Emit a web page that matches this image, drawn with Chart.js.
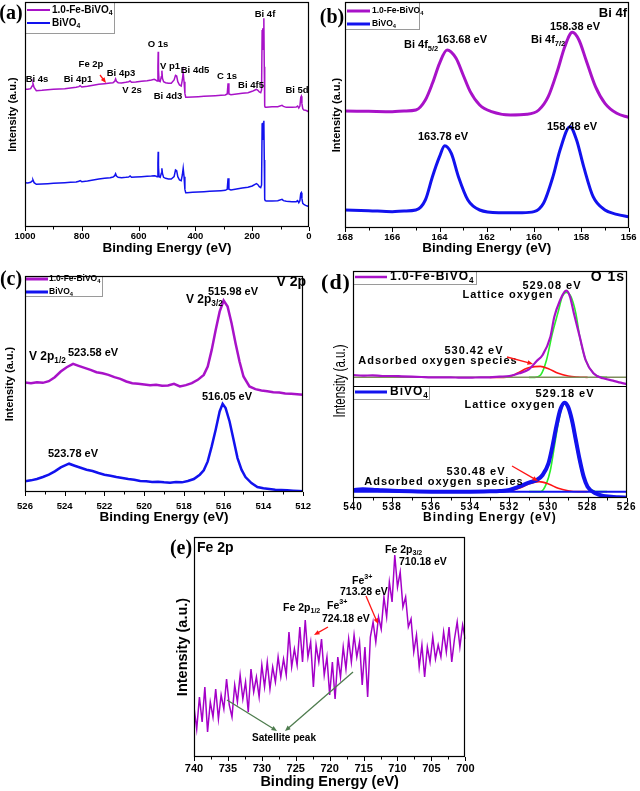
<!DOCTYPE html>
<html><head><meta charset="utf-8">
<script src="https://cdn.jsdelivr.net/npm/chart.js@4.4.1/dist/chart.umd.min.js"></script>
<style>
html,body{margin:0;padding:0;background:#fff;}
body{width:640px;height:791px;position:relative;overflow:hidden;}
canvas{position:absolute;}
</style></head><body>
<canvas id="pa" width="320" height="260" style="left:0;top:0"></canvas>
<canvas id="pb" width="320" height="260" style="left:320px;top:0"></canvas>
<canvas id="pc" width="320" height="265" style="left:0;top:260px"></canvas>
<canvas id="pd" width="320" height="265" style="left:320px;top:260px"></canvas>
<canvas id="pe" width="320" height="271" style="left:160px;top:520px"></canvas>
<script>
// ---------------- DATA ----------------
// (a) survey spectra
const surveyEnergy = [1000,990,980,975,972,968,960,940,920,900,880,860,840,820,810,806,800,780,760,740,720,700,690,684,681,678,672,660,645,635,630,625,610,590,570,555,545,540,535,532,531,530,528,524,520,518,516,512,505,495,485,475,470,466,462,456,450,446,443,440,437,434,430,410,390,370,350,330,310,295,288,285,282,275,255,235,215,200,190,185,180,175,170,167,165,163.5,162,160.5,159,157.5,156,154,150,130,110,95,90,80,60,45,40,36,32,29,27,25,22,18,12,6,0];
const surveyFe = [432,432,434,442,450,438,428,429,431,432,433,434,436,438,440,443,439,441,444,447,449,451,452,456,463,456,452,451,453,455,457,453,454,456,458,460,462,460,457,500,545,490,457,455,470,488,465,455,452,450,450,460,474,472,455,445,442,460,482,455,420,408,408,409,410,411,412,413,414,415,418,450,418,416,418,420,422,426,430,432,429,424,422,430,610,615,550,580,645,500,382,378,378,380,380,384,381,378,378,379,382,376,382,408,411,390,374,370,369,367,364];
const surveyBi = [152,151,153,157,160,152,147,148,149,150,151,152,153,154,156,158,155,157,160,163,165,167,169,173,179,172,168,167,168,169,172,168,169,170,171,172,173,172,170,210,245,200,170,168,180,195,180,168,165,163,163,170,190,188,170,160,158,175,195,170,132,122,122,123,124,125,126,127,128,129,132,165,132,130,133,136,138,142,147,149,146,140,137,145,330,332,280,300,338,220,102,98,97,97,98,102,98,96,95,95,98,92,98,120,122,105,90,87,84,82,80];
const surveyTicks = {min:0, max:1000, step:200};

// (b) Bi 4f
const bi4fEnergyFe = [168,167,166,165.5,165,164.6,164.3,164,163.68,163.3,163,162.7,162.3,161.8,161,160.3,159.8,159.4,159,158.7,158.38,158.1,157.8,157.4,157,156.5,156];
const bi4fFe = [367,366,365,367,370,400,450,510,550,525,475,425,385,365,355,357,370,410,490,560,603,580,520,440,390,360,348];
const bi4fEnergyBi = [168,167,166,165.5,165,164.6,164.3,164,163.78,163.5,163.2,162.8,162.3,161.5,160.5,160,159.6,159.2,158.9,158.48,158.2,157.9,157.5,157,156.5,156];
const bi4fBi = [70,68,65,67,70,100,170,230,263,240,170,100,70,62,62,65,90,170,250,320,280,200,110,70,57,50];
const bi4fTicks = {min:156, max:168, step:2};

// (c) V 2p
const v2pEnergyFe = [526,525.7,525.4,525.1,524.8,524.5,524.2,523.9,523.58,523.3,523,522.7,522.4,522.1,521.8,521.5,521.2,520.9,520.6,520.3,520,519.7,519.4,519.1,518.8,518.5,518.2,517.9,517.6,517.3,517,516.8,516.6,516.4,516.2,516,515.8,515.6,515.4,515.2,515,514.7,514.4,514.1,513.8,513.5,513.2,512.9,512.6,512.3,512];
const v2pFe = [332,330,333,331,336,348,365,378,388,382,376,370,363,360,355,348,343,335,330,328,326,324,325,322,323,328,320,324,330,340,355,380,430,490,545,578,560,510,450,395,350,320,312,308,306,303,302,299,298,297,295];
const v2pEnergyBi = [526,525.7,525.4,525.1,524.8,524.5,524.2,523.9,523.78,523.5,523.2,522.9,522.6,522.3,522,521.7,521.4,521.1,520.8,520.5,520.2,519.9,519.6,519.3,519,518.7,518.4,518.1,517.8,517.5,517.2,517,516.8,516.6,516.4,516.2,516.05,515.9,515.7,515.5,515.3,515.1,514.9,514.6,514.3,514,513.7,513.4,513.1,512.8,512.5,512.2,512];
const v2pBi = [35,38,42,48,55,65,77,85,88,82,76,70,66,60,55,52,48,45,42,40,36,35,33,34,32,31,33,32,36,42,55,68,95,140,190,245,268,255,215,160,105,70,48,30,18,14,12,10,9,8,7,6,5];
const v2pTicks = {min:512, max:526, step:2};

// (d) O 1s  (upper: 1.0-Fe-BiVO4, lower: BiVO4)
const o1sEnergyFe = [540,539.5,539,538.5,538,537.5,537,536.5,536,535.5,535,534.5,534,533.5,533,532.5,532,531.5,531,530.6,530.3,529.9,529.7,529.4,529.2,529.08,528.9,528.7,528.4,528.1,527.7,527.2,526.7,526.3,526];
const o1sFe = [455,453,454,452,452,451,450,449,448,448,448,447,447,448,448,450,452,460,472,497,515,570,630,680,703,708,690,640,570,500,460,445,438,432,428];
const o1sLatticeEnergyFe = [531,530.7,530.4,530.1,529.8,529.5,529.3,529.08,528.85,528.6,528.4,528.1,527.7,527.4,527];
const o1sLatticeFe = [448,448,455,500,580,645,689,703,690,640,570,500,460,450,448];
const o1sAdsEnergyFe = [533,532.3,532,531.6,531.1,530.7,530.42,530,529.5,529,528.5,528];
const o1sAdsFe = [448,448,450,460,475,480,481,474,460,452,449,448];
const o1sBaseEnergy = [540,526];
const o1sBaseFe = [448,448];
const o1sEnergyBi = [540,539.5,539,538.5,538,537,536,535,534,533,532.5,532,531.5,531,530.6,530.3,530,529.8,529.6,529.4,529.18,529,528.8,528.6,528.4,528.2,528,527.6,527.2,526.8,526.4,526];
const o1sBi = [110,112,111,109,108,106,105,105,105,106,107,110,120,132,140,155,190,240,300,350,372,360,320,260,200,150,120,100,92,90,88,87];
const o1sLatticeEnergyBi = [531,530.4,530.1,529.9,529.7,529.5,529.3,529.18,529,528.8,528.6,528.4,528.2,528,527.7,527.5,527];
const o1sLatticeBi = [105,105,130,170,240,310,360,370,355,310,250,190,145,120,108,105,105];
const o1sAdsEnergyBi = [533,532,531.5,531,530.48,530,529.5,529,528.5,528];
const o1sAdsBi = [105,107,115,128,135,128,115,108,105,105];
const o1sBaseBi = [105,105];
const o1sTicks = {min:526, max:540, step:2};

// (e) Fe 2p
const fe2pEnergy = [740,739.6,739.2,738.8,738.4,738,737.6,737.2,736.8,736.4,736,735.6,735.2,734.8,734.4,734,733.6,733.2,732.8,732.4,732,731.6,731.2,730.8,730.4,730,729.6,729.2,728.8,728.4,728,727.6,727.2,726.8,726.4,726,725.6,725.2,724.8,724.4,724,723.6,723.2,722.8,722.4,722,721.6,721.2,720.8,720.4,720,719.6,719.2,718.8,718.4,718,717.6,717.2,716.8,716.4,716,715.6,715.2,714.8,714.4,714,713.6,713.2,712.8,712.4,712,711.6,711.2,710.8,710.4,710,709.6,709.2,708.8,708.4,708,707.6,707.2,706.8,706.4,706,705.6,705.2,704.8,704.4,704,703.6,703.2,702.8,702.4,702,701.6,701.2,700.8,700.4,700];
const fe2pIntensity = [239,173,269,194,299,164,254,209,293,203,275,233,323,245,209,305,254,335,263,314,224,353,284,329,269,365,299,374,293,359,314,389,329,383,335,464,359,413,365,479,374,500,389,434,299,425,374,443,335,389,275,374,263,389,329,419,353,443,374,455,389,434,305,419,269,449,494,434,509,473,569,509,614,554,695,599,644,539,569,479,503,404,455,359,425,329,419,374,449,383,425,389,464,404,479,374,443,494,419,485,443];
const fe2pTicks = {min:700, max:740, step:5};

// ---------------- STYLE ----------------
const SANS = "'Liberation Sans', Arial, Helvetica, sans-serif";
const SERIF = "'Liberation Serif', 'Times New Roman', serif";
const PURPLE = '#A812C8', BLUE = '#1212EE', RED = '#FF1414', GREEN = '#2AEE2A', OLIVE = '#7E8C5C', DKGREEN = '#4E7C4E';

function pts(xs, ys) { return xs.map((x, i) => ({x: x, y: ys[i]})); }

function drawRich(ctx, str, x, y, size, align, family, weight, color) {
  const re = /([_^])\{([^}]*)\}/g;
  const segs = []; let last = 0, m;
  while ((m = re.exec(str))) {
    if (m.index > last) segs.push({t: str.slice(last, m.index), k: ''});
    segs.push({t: m[2], k: m[1]}); last = re.lastIndex;
  }
  if (last < str.length) segs.push({t: str.slice(last), k: ''});
  const fnt = s => `${weight} ${s.k ? size * 0.68 : size}px ${family}`;
  const w = segs.map(s => { ctx.font = fnt(s); return ctx.measureText(s.t).width; });
  const total = w.reduce((a, b) => a + b, 0);
  let cx = align === 'center' ? x - total / 2 : align === 'right' ? x - total : x;
  ctx.fillStyle = color; ctx.textBaseline = 'middle'; ctx.textAlign = 'left';
  segs.forEach((s, i) => {
    ctx.font = fnt(s);
    const dy = s.k === '_' ? size * 0.32 : s.k === '^' ? -size * 0.38 : 0;
    ctx.fillText(s.t, cx, y + dy); cx += w[i];
  });
}
function arrow(ctx, x1, y1, x2, y2, color) {
  const ang = Math.atan2(y2 - y1, x2 - x1), h = 6;
  ctx.strokeStyle = color; ctx.fillStyle = color; ctx.lineWidth = 1.3;
  ctx.beginPath(); ctx.moveTo(x1, y1); ctx.lineTo(x2 - Math.cos(ang) * h * 0.7, y2 - Math.sin(ang) * h * 0.7); ctx.stroke();
  ctx.beginPath(); ctx.moveTo(x2, y2);
  ctx.lineTo(x2 - h * Math.cos(ang - 0.4), y2 - h * Math.sin(ang - 0.4));
  ctx.lineTo(x2 - h * Math.cos(ang + 0.4), y2 - h * Math.sin(ang + 0.4));
  ctx.closePath(); ctx.fill();
}

// annotation layout (page coordinates)
const PANELS = {
  pa: {ox: 0, oy: 0, minor: 100, major: 200, fs: 9.5,
    tag: ['(a)', 11, 14, 20],
    texts: [['Bi 4f',265,14,'center'],['O 1s',158,44,'center'],['V p1',170,66,'center'],['Bi 4d5',195,70,'center'],['Fe 2p',91,64,'center'],['Bi 4p3',121,73,'center'],['Bi 4s',37,79,'center'],['Bi 4p1',78,79,'center'],['V 2s',132,90,'center'],['Bi 4d3',168,96,'center'],['C 1s',227,76,'center'],['Bi 4f5',251,85,'center'],['Bi 5d',297,90,'center']],
    arrows: [[100,75,106,83,RED]],
    legends: [{box:[25,2,90,32], size:10, items:[{c:PURPLE,lw:2,x1:27,x2:50,y:10,tx:52,t:'1.0-Fe-BiVO_{4}'},{c:BLUE,lw:2,x1:27,x2:50,y:23,tx:52,t:'BiVO_{4}'}]}]},
  pb: {ox: 320, oy: 0, minor: 1, major: 2, fs: 11,
    tag: ['(b)', 332, 18, 20],
    texts: [['158.38 eV',575,27,'center'],['Bi 4f_{7/2}',531,40,'left'],['163.68 eV',462,40,'center'],['Bi 4f_{5/2}',404,45,'left'],['163.78 eV',443,137,'center'],['158.48 eV',572,127,'center'],['Bi 4f',627,13,'right',13]],
    arrows: [],
    legends: [{box:[345,2,75,28], size:8.5, items:[{c:PURPLE,lw:3,x1:347,x2:370,y:11,tx:372,t:'1.0-Fe-BiVO_{4}'},{c:BLUE,lw:3,x1:347,x2:370,y:24,tx:372,t:'BiVO_{4}'}]}]},
  pc: {ox: 0, oy: 260, minor: 1, major: 2, fs: 11,
    tag: ['(c)', 11, 280, 20],
    texts: [['515.98 eV',233,292,'center'],['V 2p_{3/2}',186,300,'left',12],['V 2p_{1/2}',29,357,'left',12],['523.58 eV',68,353,'left'],['516.05 eV',227,397,'center'],['523.78 eV',73,454,'center'],['V 2p',306,282,'right',14]],
    arrows: [],
    legends: [{box:[25,276,78,21], size:8.5, items:[{c:PURPLE,lw:3,x1:26,x2:48,y:279,tx:49,t:'1.0-Fe-BiVO_{4}'},{c:BLUE,lw:3,x1:26,x2:48,y:292,tx:49,t:'BiVO_{4}'}]}]},
  pd: {ox: 320, oy: 260, minor: 1, major: 2, fs: 11, spacing: 1, divider: 422,
    ytitle: {t: 'Intensity (a.u.)', x: 341, y: 381, size: 16, sx: 0.72},
    tag: ['(d)', 336, 283, 22],
    texts: [['529.08 eV',552,286,'center'],['Lattice oxygen',508,295,'center'],['530.42 eV',474,351,'center'],['Adsorbed oxygen species',438,361,'center'],['529.18 eV',565,394,'center'],['Lattice oxygen',510,405,'center'],['530.48 eV',476,472,'center'],['Adsorbed oxygen species',444,482,'center'],['O 1s',625,277,'right',14]],
    arrows: [[507,357,533,364,RED],[512,466,538,481,RED]],
    legends: [{box:[353,271,124,14], size:12, items:[{c:PURPLE,lw:2.5,x1:355,x2:387,y:277,tx:390,t:'1.0-Fe-BiVO_{4}'}]},
              {box:[353,386,77,14], size:12, items:[{c:BLUE,lw:3,x1:355,x2:387,y:392,tx:390,t:'BiVO_{4}'}]}]},
  pe: {ox: 160, oy: 520, minor: 2.5, major: 5, fs: 10.5,
    tag: ['(e)', 181, 549, 20],
    texts: [['Fe 2p',197,548,'left',14],['Fe 2p_{3/2}',385,550,'left'],['710.18 eV',399,562,'left'],['Fe^{3+}',352,581,'left'],['713.28 eV',340,592,'left'],['Fe 2p_{1/2}',283,608,'left'],['Fe^{3+}',327,606,'left'],['724.18 eV',322,619,'left'],['Satellite peak',284,738,'center',10]],
    arrows: [[366,596,378,624,RED],[328,627,314,635,RED],[227,700,277,731,DKGREEN],[353,672,285,731,DKGREEN]],
    legends: []}
};

const deco = {
  id: 'deco',
  beforeUpdate(chart) { const P = PANELS[chart.canvas.id]; chart.ctx.letterSpacing = (P.spacing || 0) + 'px'; },
  beforeDraw(chart) { const P = PANELS[chart.canvas.id]; chart.ctx.letterSpacing = (P.spacing || 0) + 'px'; },
  afterDraw(chart) {
    const P = PANELS[chart.canvas.id], ctx = chart.ctx, a = chart.chartArea, xs = chart.scales.x, ys = chart.scales.y;
    const ox = P.ox, oy = P.oy;
    ctx.save();
    // legends
    P.legends.forEach(L => {
      const [bx, by, bw, bh] = L.box;
      ctx.fillStyle = '#fff'; ctx.fillRect(bx - ox, by - oy, bw, bh);
      ctx.strokeStyle = '#9a9a9a'; ctx.lineWidth = 1; ctx.strokeRect(bx - ox + 0.5, by - oy + 0.5, bw - 1, bh - 1);
      L.items.forEach(it => {
        ctx.strokeStyle = it.c; ctx.lineWidth = it.lw;
        ctx.beginPath(); ctx.moveTo(it.x1 - ox, it.y - oy); ctx.lineTo(it.x2 - ox, it.y - oy); ctx.stroke();
        drawRich(ctx, it.t, it.tx - ox, it.y - oy, L.size, 'left', SANS, 'bold', '#000');
      });
    });
    // divider
    if (P.divider !== undefined) {
      const py = Math.round(ys.getPixelForValue(P.divider)) + 0.5;
      ctx.strokeStyle = '#000'; ctx.lineWidth = 1.2;
      ctx.beginPath(); ctx.moveTo(a.left, py); ctx.lineTo(a.right, py); ctx.stroke();
    }
    // frame
    ctx.strokeStyle = '#000'; ctx.lineWidth = 1.2;
    ctx.strokeRect(Math.round(a.left) + 0.5, Math.round(a.top) + 0.5, Math.round(a.right - a.left) - 1, Math.round(a.bottom - a.top) - 1);
    // ticks (major + minor)
    const n = Math.round((xs.max - xs.min) / P.minor), every = Math.round(P.major / P.minor);
    ctx.lineWidth = 1;
    for (let k = 0; k <= n; k++) {
      const px = Math.round(xs.getPixelForValue(xs.min + k * P.minor)) + 0.5;
      const len = k % every === 0 ? 4 : 2.5;
      ctx.beginPath(); ctx.moveTo(px, a.bottom); ctx.lineTo(px, a.bottom + len); ctx.stroke();
    }
    // texts
    P.texts.forEach(t => drawRich(ctx, t[0], t[1] - ox, t[2] - oy, t[4] || P.fs, t[3], SANS, 'bold', '#000'));
    P.arrows.forEach(r => arrow(ctx, r[0] - ox, r[1] - oy, r[2] - ox, r[3] - oy, r[4]));
    const g = P.tag;
    drawRich(ctx, g[0], g[1] - ox, g[2] - oy, g[3], 'center', SERIF, 'bold', '#000');
    // condensed y title (panel d)
    if (P.ytitle) {
      const T = P.ytitle;
      ctx.save();
      ctx.letterSpacing = '0px';
      ctx.translate(T.x - ox, T.y - oy); ctx.rotate(-Math.PI / 2); ctx.scale(T.sx, 1);
      ctx.font = `${T.size}px ${SANS}`; ctx.fillStyle = '#000'; ctx.textAlign = 'center'; ctx.textBaseline = 'middle';
      ctx.fillText(T.t, 0, 0);
      ctx.restore();
    }
    ctx.restore();
  }
};

function ds(data, color, width, extra) {
  return Object.assign({data: data, borderColor: color, borderWidth: width, pointRadius: 0, fill: false, tension: 0}, extra || {});
}

function makeChart(id, datasets, g) {
  new Chart(document.getElementById(id), {
    type: 'line',
    data: {datasets: datasets},
    plugins: [deco],
    options: {
      responsive: false, animation: false, events: [], devicePixelRatio: 1,
      layout: {padding: {top: g.top, right: g.right, left: 0, bottom: 0}},
      plugins: {legend: {display: false}, tooltip: {enabled: false}},
      scales: {
        x: {type: 'linear', reverse: true, min: g.ticks.min, max: g.ticks.max,
          ticks: {stepSize: g.ticks.step, color: '#000', padding: g.tickPad, maxRotation: 0, autoSkip: false,
                  font: {family: SANS, size: g.tickSize, weight: 'bold'}, callback: v => String(v)},
          grid: {display: false, drawTicks: false}, border: {display: false},
          title: {display: true, text: 'Binding Energy (eV)', color: '#000',
                  font: {family: SANS, size: g.xtSize, weight: 'bold'}, padding: {top: 0, bottom: g.xtPad}},
          afterFit: s => { s.height = g.xH; }},
        y: {min: g.ymin, max: g.ymax, ticks: {display: false}, grid: {display: false}, border: {display: false},
          title: {display: !g.ytHide, text: 'Intensity (a.u.)', color: '#000',
                  font: {family: SANS, size: g.ytSize, weight: 'bold'}, padding: {top: g.ytPad, bottom: 0}},
          afterFit: s => { s.width = g.yW; }}
      }
    }
  });
}

makeChart('pa', [
  ds(pts(surveyEnergy, surveyFe), PURPLE, 1.5),
  ds(pts(surveyEnergy, surveyBi), BLUE, 1.5)
], {top: 2, right: 11, yW: 25, xH: 33, ticks: surveyTicks, tickPad: 4, tickSize: 9.5, xtSize: 13.5, xtPad: 3.9, ytSize: 11, ytPad: 6.4, ymin: 19, ymax: 694});

makeChart('pb', [
  ds(pts(bi4fEnergyFe, bi4fFe), PURPLE, 3, {cubicInterpolationMode: 'monotone'}),
  ds(pts(bi4fEnergyBi, bi4fBi), BLUE, 3, {cubicInterpolationMode: 'monotone'})
], {top: 2, right: 10, yW: 25, xH: 32, ticks: bi4fTicks, tickPad: 3.5, tickSize: 9.5, xtSize: 13.5, xtPad: 3.9, ytSize: 11, ytPad: 10.4, ymin: 16, ymax: 694});

makeChart('pc', [
  ds(pts(v2pEnergyFe, v2pFe), PURPLE, 2.5),
  ds(pts(v2pEnergyBi, v2pBi), BLUE, 2.5)
], {top: 16, right: 13, yW: 25, xH: 33, ticks: v2pTicks, tickPad: 9, tickSize: 9.5, xtSize: 13.5, xtPad: 0, ytSize: 11, ytPad: 2.9, ymin: 3, ymax: 652});

makeChart('pd', [
  ds(pts(o1sEnergyFe, o1sFe), PURPLE, 2.2, {cubicInterpolationMode: 'monotone'}),
  ds(pts(o1sBaseEnergy, o1sBaseFe), OLIVE, 1.5),
  ds(pts(o1sAdsEnergyFe, o1sAdsFe), RED, 1.6, {cubicInterpolationMode: 'monotone'}),
  ds(pts(o1sLatticeEnergyFe, o1sLatticeFe), GREEN, 1.6, {cubicInterpolationMode: 'monotone'}),
  ds(pts(o1sEnergyBi, o1sBi), BLUE, 4, {cubicInterpolationMode: 'monotone'}),
  ds(pts(o1sBaseEnergy, o1sBaseBi), BLUE, 2),
  ds(pts(o1sAdsEnergyBi, o1sAdsBi), RED, 1.6, {cubicInterpolationMode: 'monotone'}),
  ds(pts(o1sLatticeEnergyBi, o1sLatticeBi), GREEN, 1.6, {cubicInterpolationMode: 'monotone'})
], {top: 11, right: 13, yW: 33, xH: 27, ticks: o1sTicks, tickPad: 3.5, tickSize: 10, xtSize: 12, xtPad: 0, ytHide: true, ytSize: 12, ytPad: 0, ymin: 86, ymax: 767});

makeChart('pe', [
  ds(pts(fe2pEnergy, fe2pIntensity), '#A400C8', 1.5)
], {top: 17, right: 12, yW: 34, xH: 34, ticks: fe2pTicks, tickPad: 5.5, tickSize: 11, xtSize: 14.5, xtPad: 0.6, ytSize: 14.5, ytPad: 14.3, ymin: 89, ymax: 749});
</script>
</body></html>
